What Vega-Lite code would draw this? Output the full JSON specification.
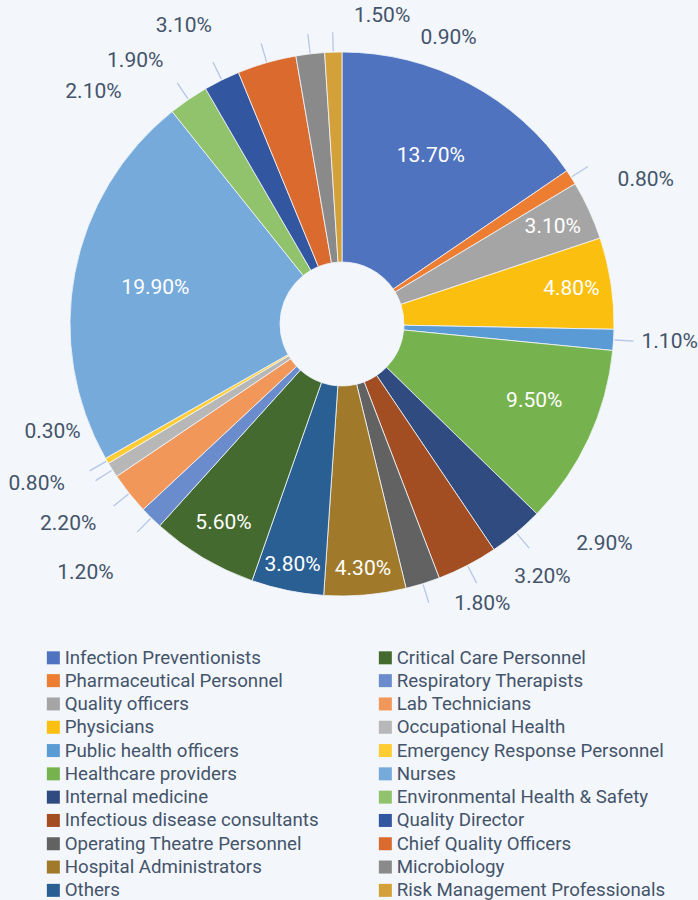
{
  "$schema": "https://vega.github.io/schema/vega-lite/v6.json",
  "width": 684,
  "height": 648,
  "autosize": {"type": "none"},
  "padding": {"left": 0, "top": 0, "right": 14, "bottom": 252},
  "background": "#f3f6fb",
  "config": {"view": {"stroke": null}, "font": "Roboto", "text": {"font": "Roboto", "fontSize": 21, "baseline": "middle", "radius": 300, "color": "#44546a"}},
  "data": {
    "values": [
      {"idx": 1, "cat": "Infection Preventionists", "share": 0.137},
      {"idx": 2, "cat": "Pharmaceutical Personnel", "share": 0.008},
      {"idx": 3, "cat": "Quality officers", "share": 0.031},
      {"idx": 4, "cat": "Physicians", "share": 0.048},
      {"idx": 5, "cat": "Public health officers", "share": 0.011},
      {"idx": 6, "cat": "Healthcare providers", "share": 0.095},
      {"idx": 7, "cat": "Internal medicine", "share": 0.029},
      {"idx": 8, "cat": "Infectious disease consultants", "share": 0.032},
      {"idx": 9, "cat": "Operating Theatre Personnel", "share": 0.018},
      {"idx": 10, "cat": "Hospital Administrators", "share": 0.043},
      {"idx": 11, "cat": "Others", "share": 0.038},
      {"idx": 12, "cat": "Critical Care Personnel", "share": 0.056},
      {"idx": 13, "cat": "Respiratory Therapists", "share": 0.012},
      {"idx": 14, "cat": "Lab Technicians", "share": 0.022},
      {"idx": 15, "cat": "Occupational Health", "share": 0.008},
      {"idx": 16, "cat": "Emergency Response Personnel", "share": 0.003},
      {"idx": 17, "cat": "Nurses", "share": 0.199},
      {"idx": 18, "cat": "Environmental Health & Safety", "share": 0.021},
      {"idx": 19, "cat": "Quality Director", "share": 0.019},
      {"idx": 20, "cat": "Chief Quality Officers", "share": 0.031},
      {"idx": 21, "cat": "Microbiology", "share": 0.015},
      {"idx": 22, "cat": "Risk Management Professionals", "share": 0.009}
    ]
  },
  "encoding": {
    "theta": {"field": "share", "type": "quantitative", "stack": true},
    "order": {"field": "idx", "type": "quantitative"}
  },
  "layer": [
    {
      "mark": {"type": "arc", "outerRadius": 272, "innerRadius": 62, "stroke": "#f3f6fb", "strokeWidth": 0.8},
      "encoding": {
        "color": {
          "field": "cat",
          "type": "nominal",
          "scale": {
            "domain": ["Infection Preventionists", "Pharmaceutical Personnel", "Quality officers", "Physicians", "Public health officers", "Healthcare providers", "Internal medicine", "Infectious disease consultants", "Operating Theatre Personnel", "Hospital Administrators", "Others", "Critical Care Personnel", "Respiratory Therapists", "Lab Technicians", "Occupational Health", "Emergency Response Personnel", "Nurses", "Environmental Health & Safety", "Quality Director", "Chief Quality Officers", "Microbiology", "Risk Management Professionals"],
            "range": ["#5073c0", "#ed7d31", "#a5a5a5", "#fbbf10", "#5b9bd5", "#76b24e", "#2f4b7f", "#a24d22", "#626262", "#a07a2a", "#2a5f93", "#446a2f", "#6a8bcc", "#f1975a", "#b7b7b7", "#ffcd33", "#76aadb", "#90c36c", "#3356a0", "#db6a2f", "#8a8a8a", "#d4a03a"]
          },
          "legend": {
            "orient": "none",
            "legendX": 44,
            "legendY": 648,
            "title": null,
            "columns": 2,
            "columnPadding": 57,
            "rowPadding": 3.3,
            "symbolType": "square",
            "symbolSize": 169,
            "symbolStrokeWidth": 0,
            "labelFont": "Roboto",
            "labelFontSize": 18.7,
            "labelColor": "#44546a",
            "labelOffset": 2,
            "labelLimit": 400
          }
        }
      }
    },
    {
      "mark": {"type": "arc", "outerRadius": 292, "innerRadius": 273, "padAngle": 3, "filled": false, "stroke": "#b4c7e7", "strokeWidth": 1.3},
      "encoding": {
        "strokeOpacity": {
          "condition": {"test": "indexof(['Pharmaceutical Personnel','Public health officers','Internal medicine','Infectious disease consultants','Operating Theatre Personnel','Respiratory Therapists','Lab Technicians','Occupational Health','Emergency Response Personnel','Environmental Health & Safety','Quality Director','Chief Quality Officers','Microbiology','Risk Management Professionals'], datum.cat) >= 0", "value": 1},
          "value": 0
        }
      }
    },
    {
      "mark": {"type": "text", "radius": 190, "color": "white"},
      "encoding": {
        "text": {"condition": {"test": "indexof(['Infection Preventionists','Nurses'], datum.cat) >= 0", "field": "share", "type": "quantitative", "format": ".2%"}, "value": ""}
      }
    },
    {
      "mark": {"type": "text", "radius": 232, "color": "white"},
      "encoding": {
        "text": {"condition": {"test": "indexof(['Quality officers','Physicians','Critical Care Personnel'], datum.cat) >= 0", "field": "share", "type": "quantitative", "format": ".2%"}, "value": ""}
      }
    },
    {
      "mark": {"type": "text", "radius": 212, "color": "white", "dy": -12},
      "encoding": {
        "text": {"condition": {"test": "datum.cat === 'Healthcare providers'", "field": "share", "type": "quantitative", "format": ".2%"}, "value": ""}
      }
    },
    {
      "mark": {"type": "text", "radius": 246, "color": "white"},
      "encoding": {
        "text": {"condition": {"test": "indexof(['Hospital Administrators','Others'], datum.cat) >= 0", "field": "share", "type": "quantitative", "format": ".2%"}, "value": ""}
      }
    },
    {
      "mark": {"type": "text", "align": "left", "dx": 23, "dy": 18},
      "encoding": {"text": {"condition": {"test": "datum.cat === 'Pharmaceutical Personnel'", "field": "share", "type": "quantitative", "format": ".2%"}, "value": ""}}
    },
    {
      "mark": {"type": "text", "align": "left"},
      "encoding": {"text": {"condition": {"test": "datum.cat === 'Public health officers'", "field": "share", "type": "quantitative", "format": ".2%"}, "value": ""}}
    },
    {
      "mark": {"type": "text", "align": "left", "dx": 42, "dy": -10},
      "encoding": {"text": {"condition": {"test": "datum.cat === 'Internal medicine'", "field": "share", "type": "quantitative", "format": ".2%"}, "value": ""}}
    },
    {
      "mark": {"type": "text", "align": "left", "dx": 34, "dy": -13},
      "encoding": {"text": {"condition": {"test": "datum.cat === 'Infectious disease consultants'", "field": "share", "type": "quantitative", "format": ".2%"}, "value": ""}}
    },
    {
      "mark": {"type": "text", "align": "left", "dx": 23, "dy": -6},
      "encoding": {"text": {"condition": {"test": "datum.cat === 'Operating Theatre Personnel'", "field": "share", "type": "quantitative", "format": ".2%"}, "value": ""}}
    },
    {
      "mark": {"type": "text", "align": "right", "dx": -18, "dy": 35},
      "encoding": {"text": {"condition": {"test": "datum.cat === 'Respiratory Therapists'", "field": "share", "type": "quantitative", "format": ".2%"}, "value": ""}}
    },
    {
      "mark": {"type": "text", "align": "right", "dx": -11, "dy": 13},
      "encoding": {"text": {"condition": {"test": "datum.cat === 'Lab Technicians'", "field": "share", "type": "quantitative", "format": ".2%"}, "value": ""}}
    },
    {
      "mark": {"type": "text", "align": "right", "dx": -24, "dy": -1},
      "encoding": {"text": {"condition": {"test": "datum.cat === 'Occupational Health'", "field": "share", "type": "quantitative", "format": ".2%"}, "value": ""}}
    },
    {
      "mark": {"type": "text", "align": "right", "dx": -2, "dy": -43},
      "encoding": {"text": {"condition": {"test": "datum.cat === 'Emergency Response Personnel'", "field": "share", "type": "quantitative", "format": ".2%"}, "value": ""}}
    },
    {
      "mark": {"type": "text", "align": "right", "dx": -51, "dy": 16},
      "encoding": {"text": {"condition": {"test": "datum.cat === 'Environmental Health & Safety'", "field": "share", "type": "quantitative", "format": ".2%"}, "value": ""}}
    },
    {
      "mark": {"type": "text", "align": "right", "dx": -46, "dy": 6},
      "encoding": {"text": {"condition": {"test": "datum.cat === 'Quality Director'", "field": "share", "type": "quantitative", "format": ".2%"}, "value": ""}}
    },
    {
      "mark": {"type": "text", "align": "right", "dx": -47, "dy": -10},
      "encoding": {"text": {"condition": {"test": "datum.cat === 'Chief Quality Officers'", "field": "share", "type": "quantitative", "format": ".2%"}, "value": ""}}
    },
    {
      "mark": {"type": "text", "align": "left", "dx": 47, "dy": -10},
      "encoding": {"text": {"condition": {"test": "datum.cat === 'Microbiology'", "field": "share", "type": "quantitative", "format": ".2%"}, "value": ""}}
    },
    {
      "mark": {"type": "text", "align": "left", "dx": 88, "dy": 14},
      "encoding": {"text": {"condition": {"test": "datum.cat === 'Risk Management Professionals'", "field": "share", "type": "quantitative", "format": ".2%"}, "value": ""}}
    }
  ]
}
